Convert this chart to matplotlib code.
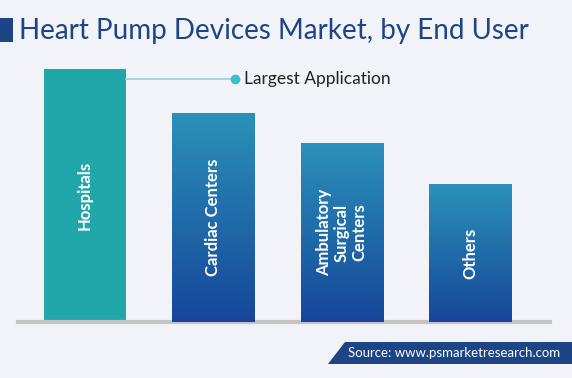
import matplotlib
matplotlib.use('Agg')
import matplotlib.pyplot as plt
import numpy as np
from matplotlib.patches import Polygon, Rectangle

# 데이터
categories = ['Hospitals', 'Cardiac Centers', 'Ambulatory\nSurgical\nCenters', 'Others']
values = [253, 209, 179, 138]
annotation = 'Largest Application'
title = 'Heart Pump Devices Market, by End User'
source = 'Source: www.psmarketresearch.com'

plt.rcParams['font.family'] = ['Lato', 'DejaVu Sans']

bg = '#f2f3f8'
navy = '#1d4585'

fig = plt.figure(figsize=(5.72, 3.78), dpi=100, facecolor=bg)
W, H = 572, 378

# 축 위치 (픽셀 기준)
ax = fig.add_axes([18 / W, (H - 322) / H, (550 - 18) / W, 262 / H])
ax.set_facecolor(bg)
ax.axis('off')

x = np.arange(len(categories))
bars = ax.bar(x, values, width=0.64, color='none', edgecolor='none')

grad = np.linspace(0, 1, 256).reshape(-1, 1)
cmap = matplotlib.colors.LinearSegmentedColormap.from_list('g', ['#16469a', '#2b91b9'])
for i, b in enumerate(bars):
    x0, w, h = b.get_x(), b.get_width(), b.get_height()
    if i == 0:
        ax.add_patch(Rectangle((x0, 0), w, h, facecolor='#21a7a9', edgecolor='none'))
    else:
        im = ax.imshow(grad, cmap=cmap, origin='lower', aspect='auto',
                       extent=(x0, x0 + w, 0, h), zorder=2)
        im.set_clip_path(b)
    ax.text(i, h / 2, categories[i], rotation=90, ha='center', va='center',
            color='white', fontsize=12, fontweight='bold', linespacing=1.1, zorder=3)

ax.set_xlim(-0.522, 3.623)
ax.set_ylim(0, 262)
ax.axhline(0, color='#c4c4c6', lw=3, zorder=1, clip_on=False)

# 주석 선
ytop = values[0] - 10
ax.plot([bars[0].get_x() + bars[0].get_width(), 1.17], [ytop, ytop],
        color='#8ed5de', lw=1.2, clip_on=False)
ax.plot([1.17], [ytop], 'o', color='#3cc0cf', ms=6, clip_on=False)
ax.text(1.24, ytop, annotation, ha='left', va='center', fontsize=12.5, color='#222222')

# 제목
fig.patches.append(Rectangle((0, (H - 42) / H), 13 / W, 24 / H, transform=fig.transFigure,
                             facecolor=navy, edgecolor='none'))
fig.text(19 / W, (H - 31) / H, title, ha='left', va='center', fontsize=20, color=navy)

# 출처 배너
pts = [(328 / W, (H - 364) / H), (345 / W, (H - 342) / H), (1, (H - 342) / H), (1, (H - 364) / H)]
fig.patches.append(Polygon(pts, closed=True, transform=fig.transFigure,
                           facecolor=navy, edgecolor='none'))
fig.text(348 / W, (H - 353) / H, source, ha='left', va='center', fontsize=9.5, color='white')

fig.savefig('out.png', dpi=100, facecolor=bg)
